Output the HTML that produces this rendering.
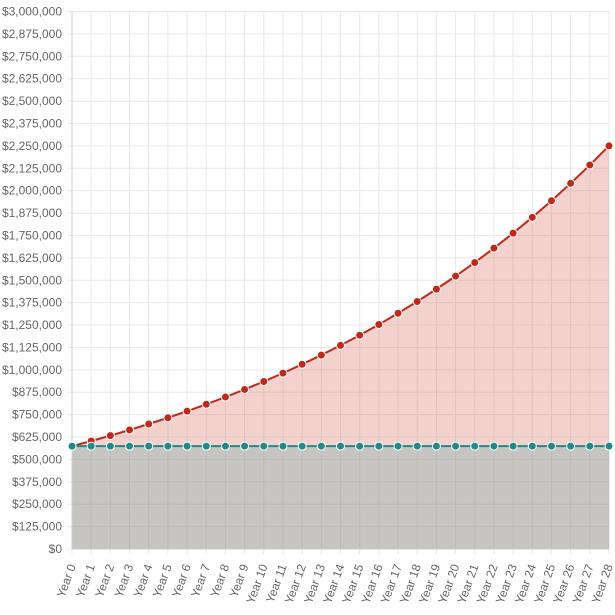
<!DOCTYPE html><html><head><style>body{margin:0;background:#fff}svg{display:block}text{font-family:"Liberation Sans",Arial,sans-serif;font-size:12px;fill:#666}</style></head><body>
<svg id="s" width="615" height="615" xmlns="http://www.w3.org/2000/svg"></svg>
<script>
var s=document.getElementById('s'),h='';
var x0=72,x1=609,y0=549,yt=11.5,N=28,step=(x1-x0)/N;
function Y(v){return y0-(v/3e6)*(y0-yt);}
function X(i){return x0+i*step;}
for(var k=0;k<=24;k++){var y=Y(k*125000);h+='<line x1="67" x2="'+x1+'" y1="'+y+'" y2="'+y+'" stroke="#e8e8e8"/>';
var lab='$'+(k*125000).toLocaleString('en-US');h+='<text x="62" y="'+(y+4)+'" text-anchor="end">'+lab+'</text>';}
for(var i=0;i<=N;i++){var x=X(i);h+='<line x1="'+x+'" x2="'+x+'" y1="'+yt+'" y2="'+(y0+5)+'" stroke="#e8e8e8"/>';
h+='<text transform="translate('+(x+4)+','+(y0+17)+') rotate(-70)" text-anchor="end">Year '+i+'</text>';}
var b=574000,rp='',bp='';
for(var i=0;i<=N;i++){rp+=X(i)+','+Y(b*Math.pow(1.05,i))+' ';bp+=X(i)+','+Y(b)+' ';}
h+='<polygon points="'+x0+','+y0+' '+rp+x1+','+y0+'" fill="rgba(210,80,60,0.26)"/>';
h+='<polygon points="'+x0+','+y0+' '+bp+x1+','+y0+'" fill="#c6c5c1"/>';
for(var k=1;k<=4;k++){var y=Y(k*125000);h+='<line x1="'+x0+'" x2="'+x1+'" y1="'+y+'" y2="'+y+'" stroke="rgba(0,0,0,0.05)"/>';}
for(var i=1;i<=N;i++){var x=X(i);h+='<line x1="'+x+'" x2="'+x+'" y1="'+Y(b)+'" y2="'+y0+'" stroke="rgba(0,0,0,0.05)"/>';}
h+='<line x1="'+x0+'" x2="'+x0+'" y1="'+yt+'" y2="'+y0+'" stroke="#ccc"/>';
h+='<line x1="'+x0+'" x2="'+x1+'" y1="'+y0+'" y2="'+y0+'" stroke="#ccc"/>';
h+='<polyline points="'+rp+'" fill="none" stroke="#c0281a" stroke-width="2"/>';
h+='<polyline points="'+bp+'" fill="none" stroke="#1f8a8a" stroke-width="2"/>';
for(var i=0;i<=N;i++){h+='<circle cx="'+X(i)+'" cy="'+Y(b*Math.pow(1.05,i))+'" r="4" fill="#c0281a" stroke="#fff" stroke-width="1"/>';
h+='<circle cx="'+X(i)+'" cy="'+Y(b)+'" r="4" fill="#1f8a8a" stroke="#fff" stroke-width="1"/>';}
s.innerHTML=h;
</script></body></html>
